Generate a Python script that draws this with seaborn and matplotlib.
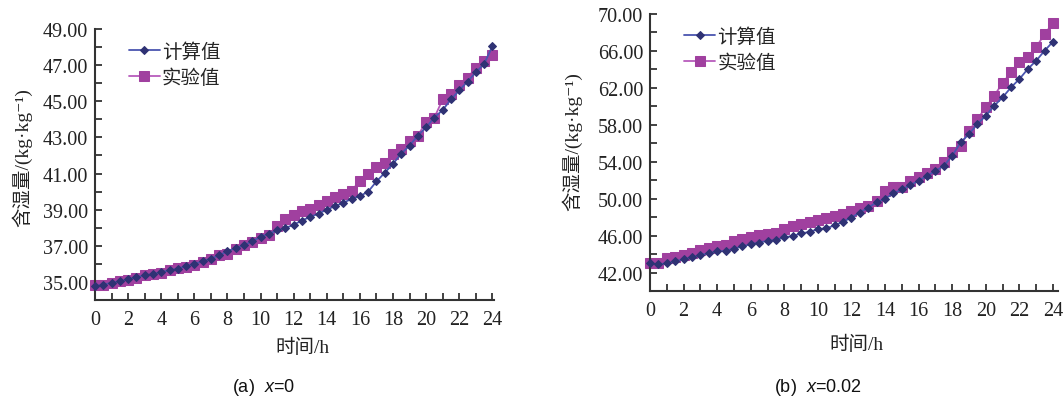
import numpy as np
import pandas as pd
import matplotlib
matplotlib.use("Agg")
import matplotlib.pyplot as plt
import seaborn as sns
from matplotlib.ticker import MultipleLocator, FormatStrFormatter

# ---------------- data ----------------
time_h = [0, 0.5, 1, 1.5, 2, 2.5, 3, 3.5, 4, 4.5, 5, 5.5, 6, 6.5, 7, 7.5, 8, 8.5,
          9, 9.5, 10, 10.5, 11, 11.5, 12, 12.5, 13, 13.5, 14, 14.5, 15, 15.5, 16,
          16.5, 17, 17.5, 18, 18.5, 19, 19.5, 20, 20.5, 21, 21.5, 22, 22.5, 23,
          23.5, 24]

# (a) x=0
calc_a = [34.78, 34.85, 34.96, 35.04, 35.15, 35.26, 35.37, 35.44, 35.55, 35.64,
          35.74, 35.88, 36.00, 36.14, 36.29, 36.47, 36.70, 36.88, 37.03, 37.25,
          37.49, 37.67, 37.85, 37.98, 38.17, 38.40, 38.60, 38.78, 39.00, 39.20,
          39.38, 39.60, 39.75, 40.00, 40.56, 41.04, 41.54, 42.10, 42.55, 43.10,
          43.56, 44.10, 44.52, 45.10, 45.60, 46.09, 46.60, 47.06, 48.04]
exp_a = [34.85, 34.85, 34.96, 35.04, 35.10, 35.24, 35.37, 35.46, 35.50, 35.64,
         35.77, 35.83, 35.96, 36.10, 36.29, 36.47, 36.57, 36.84, 37.06, 37.20,
         37.43, 37.60, 38.08, 38.46, 38.68, 38.90, 39.05, 39.27, 39.50, 39.70,
         39.88, 40.05, 40.60, 41.00, 41.35, 41.60, 42.10, 42.35, 42.80, 43.10,
         43.85, 44.10, 45.10, 45.40, 45.90, 46.30, 46.85, 47.25, 47.56]

# (b) x=0.02
calc_b = [42.98, 42.90, 42.98, 43.20, 43.45, 43.70, 43.88, 44.10, 44.28, 44.35,
          44.60, 44.82, 45.07, 45.25, 45.43, 45.54, 45.80, 45.97, 46.23, 46.40,
          46.70, 46.77, 47.13, 47.50, 47.96, 48.50, 49.04, 49.60, 50.00, 50.56,
          51.00, 51.47, 51.94, 52.48, 53.00, 53.56, 54.64, 56.09, 57.00, 58.08,
          58.98, 60.06, 60.97, 62.05, 62.95, 64.04, 64.94, 66.02, 67.00]
exp_b = [43.08, 43.00, 43.60, 43.63, 43.88, 44.10, 44.46, 44.70, 44.82, 44.96,
         45.43, 45.68, 45.90, 46.08, 46.12, 46.23, 46.70, 47.06, 47.24, 47.42,
         47.67, 47.96, 48.07, 48.32, 48.68, 48.94, 49.23, 49.70, 50.85, 51.21,
         51.21, 51.94, 52.37, 52.77, 53.20, 53.92, 55.08, 55.73, 57.35, 58.62,
         59.88, 61.15, 62.52, 63.68, 64.76, 65.30, 66.39, 67.83, 69.02]

series_names = ["计算值", "实验值"]
ylabel_text = "含湿量/(kg·kg⁻¹)"
xlabel_text = "时间/h"
captions = ["(a)  $x$=0", "(b)  $x$=0.02"]
xtick_vals = list(range(0, 25, 2))

# ---------------- style ----------------
sns.set_style("ticks")
plt.rcParams["font.family"] = ["Liberation Serif", "DejaVu Serif", "Noto Sans CJK SC"]
plt.rcParams["mathtext.fontset"] = "custom"
plt.rcParams["mathtext.rm"] = "Liberation Sans"
plt.rcParams["mathtext.it"] = "Liberation Sans:italic"
plt.rcParams["axes.unicode_minus"] = True

calc_line = "#4a55b0"
calc_mark = "#2f3274"
exp_line = "#b85cbc"
exp_mark = "#a0409f"
spine_col = "#333333"
txt_col = "#222222"
cjk_family = ["Liberation Serif", "DejaVu Serif", "Noto Sans CJK SC"]

W, H = 1063, 402
fig = plt.figure(figsize=(W / 100, H / 100), dpi=100)

def px_axes(l, t, r, b):
    return fig.add_axes([l / W, 1 - b / H, (r - l) / W, (b - t) / H])

ax_a = px_axes(95, 30, 494, 301)
ax_b = px_axes(650, 15, 1058, 292)

panels = [
    (ax_a, calc_a, exp_a, (0, 24.1), (34.0, 49.0), 1, [35, 37, 39, 41, 43, 45, 47, 49]),
    (ax_b, calc_b, exp_b, (0, 24.3), (40.0, 70.0), 2, [42, 46, 50, 54, 58, 62, 66, 70]),
]

for ax, calc, exp, xl, yl, ymin, yt in panels:
    df = pd.DataFrame({
        "t": time_h * 2,
        "v": calc + exp,
        "s": [series_names[0]] * len(time_h) + [series_names[1]] * len(time_h),
    })
    sns.lineplot(data=df[df.s == series_names[0]], x="t", y="v", ax=ax,
                 color=calc_line, lw=1.3, marker="D", markersize=4.5,
                 markerfacecolor=calc_mark, markeredgecolor=calc_mark,
                 label=series_names[0], clip_on=False, zorder=3)
    sns.lineplot(data=df[df.s == series_names[1]], x="t", y="v", ax=ax,
                 color=exp_line, lw=1.3, marker="s", markersize=6.5,
                 markerfacecolor=exp_mark, markeredgecolor=exp_mark,
                 label=series_names[1], clip_on=False, zorder=2)
    ax.set_xlim(*xl)
    ax.set_ylim(*yl)
    ax.set_xticks(xtick_vals)
    ax.xaxis.set_minor_locator(MultipleLocator(1))
    ax.set_yticks(yt)
    ax.yaxis.set_minor_locator(MultipleLocator(ymin))
    ax.yaxis.set_major_formatter(FormatStrFormatter("%.2f"))
    ax.set_xlabel("")
    ax.set_ylabel("")
    for s in ["top", "right"]:
        ax.spines[s].set_visible(False)
    for s in ["left", "bottom"]:
        ax.spines[s].set_color(spine_col)
        ax.spines[s].set_linewidth(1.5)
    ax.tick_params(which="both", direction="in", length=5, width=1.3,
                   color=spine_col, labelsize=14.5, labelcolor=txt_col)
    ax.tick_params(axis="x", pad=7)
    ax.tick_params(axis="y", pad=5)
    for lab in ax.get_xticklabels() + ax.get_yticklabels():
        lab.set_family("Liberation Serif")
    ax.set_facecolor("white")

leg_kw = dict(frameon=False, handlelength=1.6, handletextpad=0.1,
              labelspacing=0.25, borderaxespad=0.2, numpoints=1,
              prop={"family": ["Noto Sans CJK SC"], "size": 14})
ax_a.legend(loc="upper left", bbox_to_anchor=(0.055, 1.0), **leg_kw)
ax_b.legend(loc="upper left", bbox_to_anchor=(0.055, 1.0), **leg_kw)

# axis labels
fig.text(302 / W, 1 - 348 / H, xlabel_text, ha="center", va="center", fontsize=14,
         color=txt_col, family=cjk_family)
fig.text(856 / W, 1 - 345 / H, xlabel_text, ha="center", va="center", fontsize=14,
         color=txt_col, family=cjk_family)
fig.text(22 / W, 1 - 158 / H, ylabel_text, ha="center", va="center", rotation=90,
         fontsize=14, color=txt_col, family=cjk_family)
fig.text(572 / W, 1 - 142 / H, ylabel_text, ha="center", va="center", rotation=90,
         fontsize=14, color=txt_col, family=cjk_family)

# captions
fig.text(263 / W, 1 - 388 / H, captions[0], ha="center", va="center", fontsize=13,
         family=["Liberation Sans"], color="#111111")
fig.text(818 / W, 1 - 388 / H, captions[1], ha="center", va="center", fontsize=13,
         family=["Liberation Sans"], color="#111111")

fig.savefig("out.png", dpi=100, facecolor="white")
